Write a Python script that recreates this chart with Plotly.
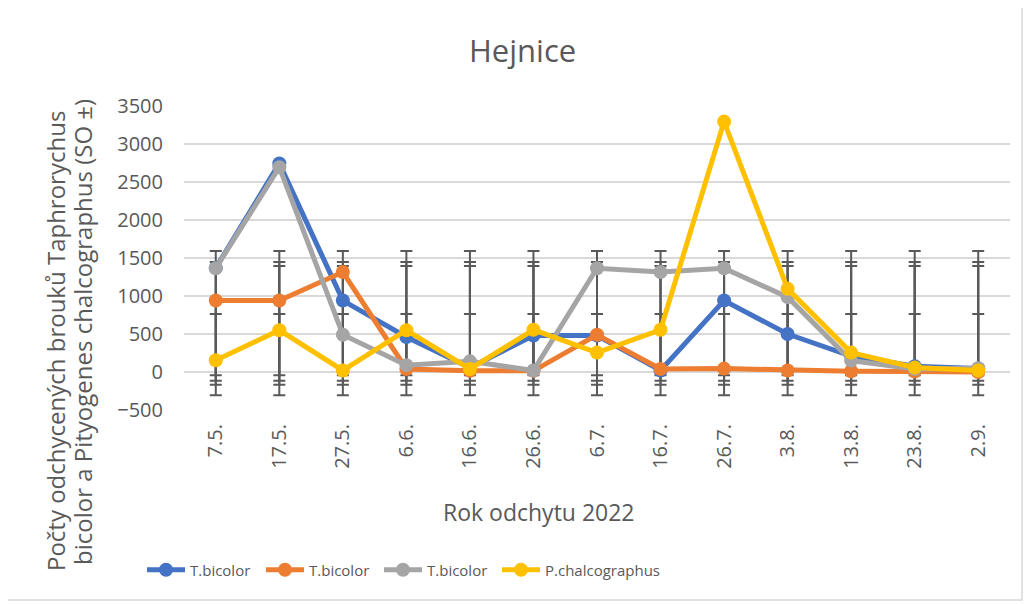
import numpy as np
import plotly.graph_objects as go

# ---- data ----
categories = ["7.5.", "17.5.", "27.5.", "6.6.", "16.6.", "26.6.", "6.7.",
              "16.7.", "26.7.", "3.8.", "13.8.", "23.8.", "2.9."]
series_names = ["T.bicolor", "T.bicolor", "T.bicolor", "P.chalcographus"]
blue_vals = [1370, 2745, 940, 460, 55, 480, 480, 20, 940, 500, 210, 75, 45]
orange_vals = [940, 940, 1315, 40, 15, 15, 490, 40, 45, 20, 10, 5, 0]
gray_vals = [1365, 2695, 490, 90, 140, 20, 1365, 1315, 1365, 985, 150, 40, 50]
yellow_vals = [155, 550, 20, 550, 40, 555, 255, 555, 3295, 1095, 255, 60, 20]
y_ticks = [-500, 0, 500, 1000, 1500, 2000, 2500, 3000, 3500]

all_vals = [blue_vals, orange_vals, gray_vals, yellow_vals]
colors = ["#4472C4", "#ED7D31", "#A5A5A5", "#FFC000"]

FONT = "Open Sans"
TXT = "#595959"

# page body has an 8px margin -> work in reference pixels minus OFF
OFF = 8
W, H = 1032 - OFF, 604 - OFF
L, T = 184 - OFF, 106 - OFF
R, B = 22, 194
pw, ph = W - L - R, H - T - B


def px_x(p):
    return (p - OFF - L) / pw


def px_y(p):
    return (H - B - (p - OFF)) / ph


fig = go.Figure()

# Excel-style "standard deviation" error bars: centred on series mean, +/- SD
for vals in all_vals:
    arr = np.array(vals, dtype=float)
    m = arr.mean()
    sd = arr.std(ddof=1)
    fig.add_trace(go.Scatter(
        x=categories, y=[m] * len(categories), mode="markers",
        marker=dict(size=1, opacity=0),
        error_y=dict(type="data", array=[sd] * len(categories), symmetric=True,
                     color="#595959", thickness=2, width=6),
        showlegend=False, hoverinfo="skip"))

legend_ids = ["legend", "legend2", "legend3", "legend4"]
legend_left = [142, 261, 379, 497]

for name, vals, col, lid in zip(series_names, all_vals, colors, legend_ids):
    fig.add_trace(go.Scatter(
        x=categories, y=vals, mode="lines+markers", name=name,
        line=dict(color=col, width=5),
        marker=dict(color=col, size=14), legend=lid))

legend_layout = {}
for lid, lx in zip(legend_ids, legend_left):
    legend_layout[lid] = dict(
        orientation="h", x=px_x(lx), xanchor="left",
        y=px_y(570), yanchor="middle", itemwidth=38,
        font=dict(size=15, color=TXT, family=FONT),
        bgcolor="rgba(0,0,0,0)")

fig.update_layout(
    width=W, height=H,
    margin=dict(l=L, r=R, t=T, b=B),
    paper_bgcolor="white", plot_bgcolor="white",
    font=dict(family=FONT, color=TXT),
    showlegend=True,
    xaxis=dict(type="category", range=[-0.5, len(categories) - 0.5],
               showgrid=False, showline=False, zeroline=False,
               tickangle=-90, tickfont=dict(size=20, color=TXT, family=FONT),
               ticks="", ticklabelstandoff=9),
    yaxis=dict(range=[-500, 3500], tickvals=y_ticks,
               showgrid=True, gridcolor="#D9D9D9", gridwidth=1.5,
               zeroline=False, showline=False,
               tickfont=dict(size=20, color=TXT, family=FONT),
               ticks="", ticklabelstandoff=20),
    annotations=[
        dict(text="Hejnice", xref="paper", yref="paper",
             x=px_x(522), y=px_y(50), xanchor="center", yanchor="middle",
             showarrow=False, font=dict(size=31, color=TXT, family=FONT)),
        dict(text="Rok odchytu 2022", xref="paper", yref="paper",
             x=px_x(539), y=px_y(512), xanchor="center", yanchor="middle",
             showarrow=False, font=dict(size=23, color=TXT, family=FONT)),
        dict(text="Počty odchycených brouků Taphrorychus",
             xref="paper", yref="paper", x=px_x(55), y=px_y(341),
             xanchor="center", yanchor="middle", textangle=-90,
             showarrow=False, font=dict(size=24, color=TXT, family=FONT)),
        dict(text="bicolor a Pityogenes chalcographus (SO ±)",
             xref="paper", yref="paper", x=px_x(82), y=px_y(332),
             xanchor="center", yanchor="middle", textangle=-90,
             showarrow=False, font=dict(size=24, color=TXT, family=FONT)),
    ],
    shapes=[dict(type="rect", xref="paper", yref="paper",
                 x0=px_x(7), x1=px_x(1022), y0=px_y(600), y1=px_y(5),
                 line=dict(color="#D9D9D9", width=1.5), layer="below")],
    **legend_layout,
)

fig.write_html("out.html")
